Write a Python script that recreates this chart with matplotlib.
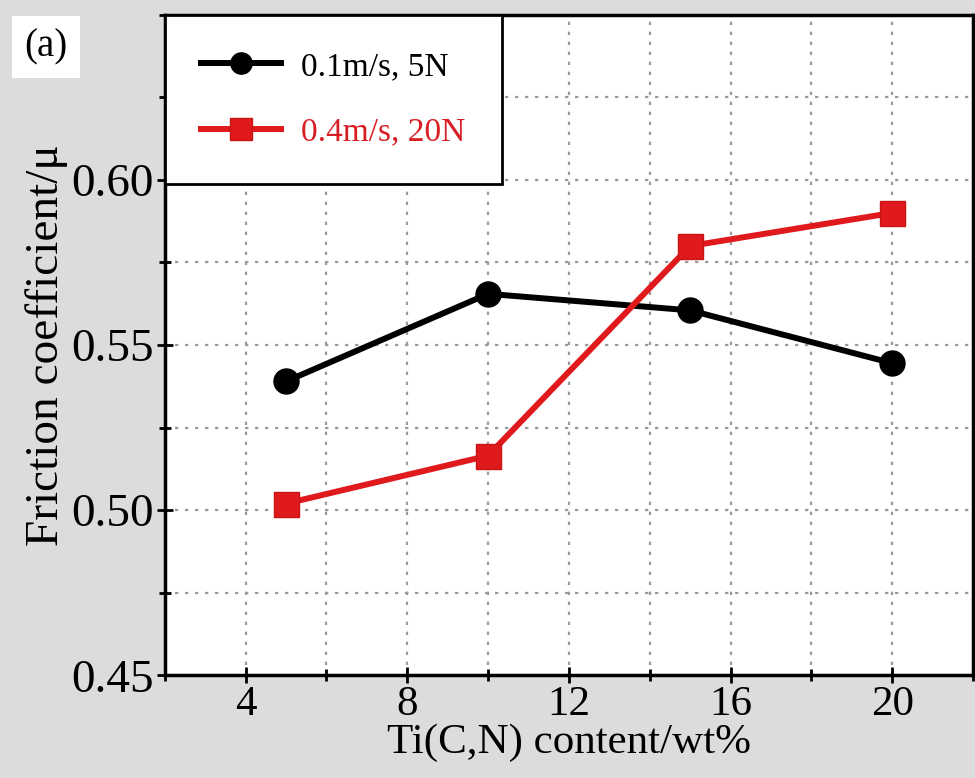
import matplotlib
matplotlib.use('Agg')
import matplotlib.pyplot as plt
from matplotlib.ticker import MultipleLocator

# data
content = [5, 10, 15, 20]
mu_low = [0.539, 0.5655, 0.5605, 0.5445]   # 0.1m/s, 5N
mu_high = [0.502, 0.5165, 0.580, 0.590]    # 0.4m/s, 20N
labels = ['0.1m/s, 5N', '0.4m/s, 20N']
xticks = [4, 8, 12, 16, 20]
yticks = [0.45, 0.50, 0.55, 0.60]

plt.rcParams['font.family'] = ['Liberation Serif', 'DejaVu Serif']

fig = plt.figure(figsize=(9.75, 7.78), dpi=100, facecolor='#dcdcdc')
ax = fig.add_axes([0.169, 0.132, 0.829, 0.849])
ax.set_facecolor('white')

ax.plot(content, mu_low, color='black', lw=4.3, marker='o', ms=18, label=labels[0])
ax.plot(content, mu_high, color='#e0191c', lw=4.3, marker='s', ms=18,
        markeredgecolor='#c81414', label=labels[1])

ax.set_xlim(2, 22)
ax.set_ylim(0.45, 0.65)
ax.set_xticks(xticks)
ax.set_yticks(yticks)
ax.set_yticklabels(['%.2f' % v for v in yticks])
ax.xaxis.set_minor_locator(MultipleLocator(2))
ax.yaxis.set_minor_locator(MultipleLocator(0.025))
ax.tick_params(which='major', direction='inout', length=12, width=2, labelsize=34,
               top=False, right=False, pad=2)
ax.tick_params(axis='x', which='major', labelsize=31, pad=1)
ax.tick_params(which='minor', direction='inout', length=8, width=2, top=False, right=False)
ax.grid(which='both', color='#9a9a9a', ls=(0, (1.5, 3)), lw=1.6)

for s in ax.spines.values():
    s.set_linewidth(2.5)

ax.set_xlabel('Ti(C,N) content/wt%', fontsize=31, labelpad=0)
ax.set_ylabel('Friction coefficient/μ', fontsize=34, labelpad=2)

leg = ax.legend(loc='upper left', fontsize=24, frameon=True, fancybox=False,
                edgecolor='black', framealpha=1, borderpad=1.1, labelspacing=1.05,
                handlelength=2.4, handletextpad=0.6, borderaxespad=0, markerscale=0.85)
leg.get_frame().set_linewidth(2)
leg.get_texts()[1].set_color('#d81e24')

fig.text(0.025, 0.94, '(a)', fontsize=28, ha='left', va='center',
         bbox=dict(facecolor='white', edgecolor='none', pad=9))

fig.savefig('out.png', dpi=100, facecolor=fig.get_facecolor())
